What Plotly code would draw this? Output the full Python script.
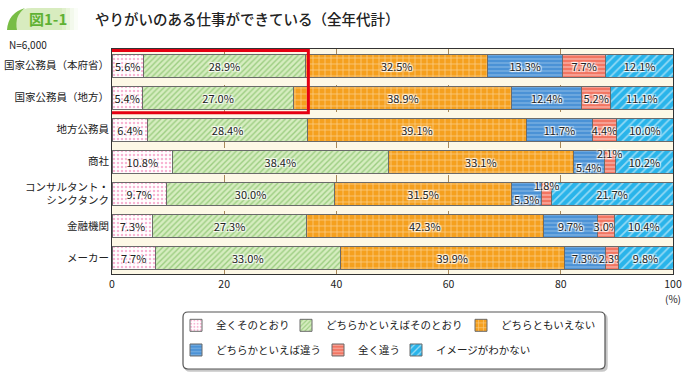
import plotly.graph_objects as go

# categories (top to bottom)
cats = ["国家公務員（本府省）", "国家公務員（地方）", "地方公務員", "商社",
        "コンサルタント・<br>シンクタンク", "金融機関", "メーカー"]

s_zentaku = [5.6, 5.4, 6.4, 10.8, 9.7, 7.3, 7.7]
s_dochira_sono = [28.9, 27.0, 28.4, 38.4, 30.0, 27.3, 33.0]
s_dochiramo = [32.5, 38.9, 39.1, 33.1, 31.5, 42.3, 39.9]
s_dochira_chigau = [13.3, 12.4, 11.7, 5.4, 5.3, 9.7, 7.3]
s_zenchigau = [7.7, 5.2, 4.4, 2.1, 1.8, 3.0, 2.3]
s_image = [12.1, 11.1, 10.0, 10.2, 21.7, 10.4, 9.8]

names = ["全くそのとおり", "どちらかといえばそのとおり", "どちらともいえない",
         "どちらかといえば違う", "全く違う", "イメージがわかない"]
series = [s_zentaku, s_dochira_sono, s_dochiramo, s_dochira_chigau, s_zenchigau, s_image]

x_ticks = [0, 20, 40, 60, 80, 100]

FONT = "Noto Sans CJK JP"
HALO = "1px 1px 1px #fff, -1px -1px 1px #fff, 1px -1px 1px #fff, -1px 1px 1px #fff"

patterns = [
    dict(shape=".", fgcolor="#f06aa8", bgcolor="#ffffff", size=4, solidity=0.3),
    dict(shape="/", fgcolor="#62ae42", bgcolor="#d6edc0", size=4, solidity=0.35),
    dict(shape="+", fgcolor="#ffffff", bgcolor="#f5a01e", size=6, solidity=0.22),
    dict(shape="-", fgcolor="#cfe6f7", bgcolor="#4b92d6", size=4, solidity=0.25),
    dict(shape="-", fgcolor="#ffffff", bgcolor="#f27562", size=4, solidity=0.3),
    dict(shape="/", fgcolor="#ffffff", bgcolor="#29b4ea", size=6, solidity=0.28),
]

# rows where the small segments get their labels moved off the bar centre
special = {3: (-5, 9), 4: (-5, 9)}

# legend positions (pixel -> paper); plot area x 112..673, y 49..277
PL, PW, PB, PH = 112, 561, 277, 228
leg_px = [(176, 329), (286, 329), (461, 329), (176, 354), (318, 354), (396, 354)]

fig = go.Figure()
for i, (nm, vals, pat) in enumerate(zip(names, series, patterns)):
    txt = []
    for j, v in enumerate(vals):
        if j in special and i in (3, 4):
            txt.append("")
        else:
            txt.append(f"{v:.1f}%")
    lg = "legend" if i == 0 else f"legend{i + 1}"
    fig.add_trace(go.Bar(
        y=cats, x=vals, name=nm, orientation="h",
        marker=dict(pattern=pat, line=dict(color="#6b6b6b", width=1)),
        text=txt, textposition="inside", insidetextanchor="middle",
        constraintext="none", textangle=0,
        textfont=dict(family=FONT, size=11, color="#222222", shadow=HALO),
        legend=lg, hoverinfo="skip",
    ))

# moved labels for narrow segments
for j, (dy_blue, dy_red) in special.items():
    base = s_zentaku[j] + s_dochira_sono[j] + s_dochiramo[j]
    xb = base + s_dochira_chigau[j] / 2
    xr = base + s_dochira_chigau[j] + s_zenchigau[j] / 2
    for xv, v, dy in ((xb, s_dochira_chigau[j], dy_blue), (xr, s_zenchigau[j], dy_red)):
        fig.add_annotation(x=xv, y=cats[j], text=f"{v:.1f}%", showarrow=False,
                           yshift=dy, font=dict(family=FONT, size=11, color="#222222", shadow=HALO))

legends = {}
for i, (px, py) in enumerate(leg_px):
    key = "legend" if i == 0 else f"legend{i + 1}"
    legends[key] = dict(x=(px - PL) / PW, y=(PB - py) / PH, xanchor="left", yanchor="middle",
                        orientation="h", bgcolor="rgba(0,0,0,0)",
                        font=dict(family=FONT, size=10.5, color="#222222"))

# legend frame (pixel offsets from the plot's lower-left corner)
frame = "M 76,-38 L 488,-38 Q 493,-38 493,-43 L 493,-90 Q 493,-95 488,-95 L 76,-95 Q 71,-95 71,-90 L 71,-43 Q 71,-38 76,-38 Z"
frame_sh = "M 78,-40 L 490,-40 Q 495,-40 495,-45 L 495,-92 Q 495,-97 490,-97 L 78,-97 Q 73,-97 73,-92 L 73,-45 Q 73,-40 78,-40 Z"

shapes = [
    dict(type="path", path=frame_sh, xref="paper", yref="paper", xsizemode="pixel", ysizemode="pixel",
         xanchor=0, yanchor=0, line=dict(color="#c8c8c8", width=1.5), fillcolor="#c8c8c8", layer="below"),
    dict(type="path", path=frame, xref="paper", yref="paper", xsizemode="pixel", ysizemode="pixel",
         xanchor=0, yanchor=0, line=dict(color="#555555", width=1.2), fillcolor="#ffffff", layer="below"),
    # red highlight box
    dict(type="rect", xref="x", yref="y", x0=-0.7, x1=35.0, y0=-0.47, y1=1.47,
         line=dict(color="#e60012", width=3), layer="above"),
]

# title tab (pixel offsets from the plot's upper-left corner)
TOP = 1.0
tab_body = "M 12,19 Q 12,41 32,41 L 62,41 L 62,19 Z"
shapes.append(dict(type="path", path=tab_body, xref="paper", yref="paper", xsizemode="pixel",
                   ysizemode="pixel", xanchor=-PL / PW, yanchor=TOP,
                   line=dict(width=0), fillcolor="#d8ecbf"))
for k, op in enumerate([0.8, 0.55, 0.3, 0.12]):
    x0 = 62 + k * 4
    shapes.append(dict(type="path", path=f"M {x0},41 L {x0 + 4},41 L {x0 + 4},19 L {x0},19 Z",
                       xref="paper", yref="paper", xsizemode="pixel", ysizemode="pixel",
                       xanchor=-PL / PW, yanchor=TOP,
                       line=dict(width=0), fillcolor="#d8ecbf", opacity=op))
crescent = "M 7,19 Q 8,36 25,41 Q 14,33 17,19 Z"
shapes.append(dict(type="path", path=crescent, xref="paper", yref="paper", xsizemode="pixel",
                   ysizemode="pixel", xanchor=-PL / PW, yanchor=TOP,
                   line=dict(width=0), fillcolor="#78bd45"))

fig.update_layout(
    width=698, height=376,
    margin=dict(l=112, r=25, t=49, b=99),
    barmode="stack", bargap=0.28,
    plot_bgcolor="#fdf8e6", paper_bgcolor="#ffffff",
    font=dict(family=FONT, size=10.5, color="#222222"),
    showlegend=True,
    shapes=shapes,
    **legends,
)
fig.update_xaxes(range=[0, 100], tickvals=x_ticks, showgrid=True, gridcolor="#a88858",
                 griddash="dash", gridwidth=1, showline=True, linecolor="#333333", mirror=True,
                 zeroline=False, ticks="", tickfont=dict(size=10.5), fixedrange=True,
                 automargin=False)
fig.update_yaxes(autorange="reversed", showline=True, linecolor="#333333", mirror=True,
                 ticks="", ticklabelstandoff=0, tickfont=dict(size=10.5), fixedrange=True,
                 automargin=False)

fig.add_annotation(x=(27 - PL) / PW, y=1 + (49 - 18) / PH, xref="paper", yref="paper",
                   text="<b>図1-1</b>", showarrow=False, xanchor="left", yanchor="middle",
                   font=dict(family=FONT, size=15, color="#5fb133"))
fig.add_annotation(x=(93 - PL) / PW, y=1 + (49 - 18) / PH, xref="paper", yref="paper",
                   text="やりがいのある仕事ができている（全年代計）", showarrow=False,
                   xanchor="left", yanchor="middle",
                   font=dict(family=FONT, size=14.5, color="#222222", weight=500))
fig.add_annotation(x=(7 - PL) / PW, y=1 + (49 - 44) / PH, xref="paper", yref="paper",
                   text="N=6,000", showarrow=False, xanchor="left", yanchor="middle",
                   font=dict(family=FONT, size=10, color="#222222"))
fig.add_annotation(x=1, y=(PB - 302) / PH, xref="paper", yref="paper",
                   text="(%)", showarrow=False, xanchor="center", yanchor="middle",
                   font=dict(family=FONT, size=10, color="#222222"))

# drop the page's default body margin so the figure sits at the window's corner
fig.write_html("out.html", config={"displayModeBar": False},
               post_script="document.body.style.margin='0px';")
